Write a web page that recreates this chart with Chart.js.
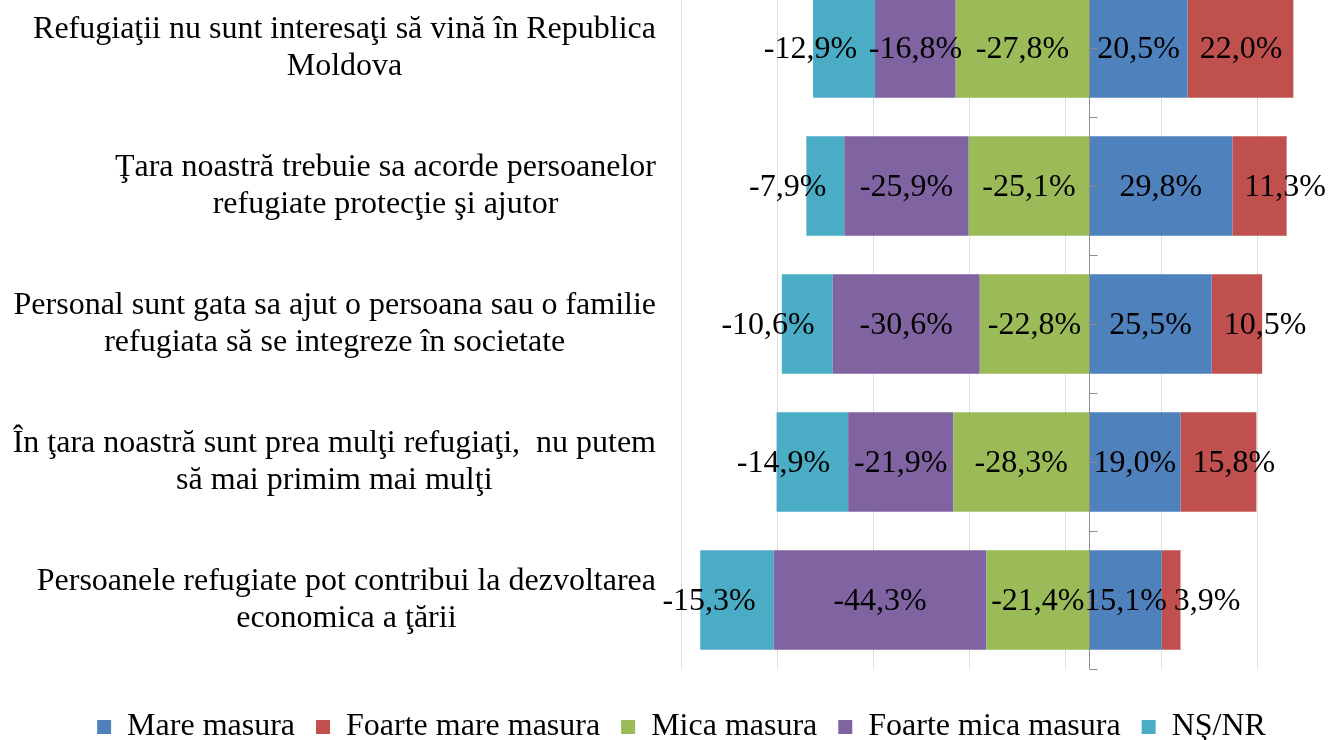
<!DOCTYPE html>
<html>
<head>
<meta charset="utf-8">
<script src="https://cdn.jsdelivr.net/npm/chart.js@4.4.0/dist/chart.umd.min.js"></script>
<style>
  html, body { margin: 0; padding: 0; background: #fff; overflow: hidden; }
  #wrap { position: absolute; left: 0; top: -21px; width: 1363px; height: 774px; }
</style>
</head>
<body>
<div id="wrap"><canvas id="chart"></canvas></div>
<script>
// intrebari (randuri de sus in jos), fiecare pe liniile ei
const intrebari = [
  ["Refugiaţii nu sunt interesaţi să vină în Republica", "Moldova"],
  ["Ţara noastră trebuie sa acorde persoanelor", "refugiate protecţie şi ajutor"],
  ["Personal sunt gata sa ajut o persoana sau o familie", "refugiata să se integreze în societate"],
  ["În ţara noastră sunt prea mulţi refugiaţi,  nu putem", "să mai primim mai mulţi"],
  ["Persoanele refugiate pot contribui la dezvoltarea", "economica a ţării"]
];

const mareMasura       = [20.5, 29.8, 25.5, 19.0, 15.1];
const foarteMareMasura = [22.0, 11.3, 10.5, 15.8, 3.9];
const micaMasura       = [-27.8, -25.1, -22.8, -28.3, -21.4];
const foarteMicaMasura = [-16.8, -25.9, -30.6, -21.9, -44.3];
const nsNr             = [-12.9, -7.9, -10.6, -14.9, -15.3];

const liniiGrila = [-85, -65, -45, -25, -5, 15, 35, 55];

const FONT = "'Liberation Serif', 'Times New Roman', serif";

function procent(v) {
  return v.toFixed(1).replace(".", ",") + "%";
}

// etichetele intrebarilor, in stanga, centrate pe fiecare bloc
const eticheteIntrebari = {
  id: "eticheteIntrebari",
  afterDraw(chart) {
    const ctx = chart.ctx;
    const y = chart.scales.y;
    const dreapta = chart.chartArea.left - 25;
    ctx.save();
    ctx.font = "32px " + FONT;
    ctx.fillStyle = "#000";
    ctx.textAlign = "center";
    ctx.textBaseline = "middle";
    intrebari.forEach((linii, i) => {
      const lat = Math.max(...linii.map(t => ctx.measureText(t).width));
      const cx = dreapta - lat / 2;
      const cy = y.getPixelForValue(i);
      const h = 37;
      linii.forEach((t, k) => {
        ctx.fillText(t, cx, cy + (k - (linii.length - 1) / 2) * h);
      });
    });
    ctx.restore();
  }
};

// axa verticala la zero cu liniute la fiecare jumatate de categorie
const axaZero = {
  id: "axaZero",
  afterDatasetsDraw(chart) {
    const ctx = chart.ctx;
    const x0 = Math.round(chart.scales.x.getPixelForValue(0)) + 0.5;
    const y = chart.scales.y;
    ctx.save();
    ctx.strokeStyle = "#8c8c8c";
    ctx.lineWidth = 1;
    ctx.beginPath();
    ctx.moveTo(x0, chart.chartArea.top);
    ctx.lineTo(x0, chart.chartArea.bottom);
    for (let v = -0.5; v <= intrebari.length - 0.5; v += 0.5) {
      const py = Math.round(y.getPixelForValue(v)) + 0.5;
      ctx.moveTo(x0, py);
      ctx.lineTo(x0 + 8, py);
    }
    ctx.stroke();
    ctx.restore();
  }
};

// valorile pe bare
const valori = {
  id: "valori",
  afterDatasetsDraw(chart) {
    const ctx = chart.ctx;
    ctx.save();
    ctx.font = "32px " + FONT;
    ctx.fillStyle = "#000";
    ctx.textBaseline = "middle";
    chart.data.datasets.forEach((ds, di) => {
      const meta = chart.getDatasetMeta(di);
      meta.data.forEach((bar, i) => {
        const txt = procent(ds.data[i]);
        if (di === 1) {
          ctx.textAlign = "left";
          ctx.fillText(txt, bar.base + 12, bar.y + 2);
        } else if (di === 4) {
          ctx.textAlign = "right";
          ctx.fillText(txt, bar.base - 18, bar.y + 2);
        } else {
          ctx.textAlign = "center";
          ctx.fillText(txt, (bar.x + bar.base) / 2, bar.y + 2);
        }
      });
    });
    ctx.restore();
  }
};

new Chart(document.getElementById("chart"), {
  type: "bar",
  data: {
    labels: intrebari.map(l => l.join(" ")),
    datasets: [
      { label: "Mare masura", data: mareMasura, backgroundColor: "#4f81bd" },
      { label: "Foarte mare masura", data: foarteMareMasura, backgroundColor: "#c0504d" },
      { label: "Mica masura", data: micaMasura, backgroundColor: "#9bbb59" },
      { label: "Foarte mica masura", data: foarteMicaMasura, backgroundColor: "#8064a2" },
      { label: "NŞ/NR", data: nsNr, backgroundColor: "#4bacc6" }
    ]
  },
  options: {
    indexAxis: "y",
    responsive: true,
    maintainAspectRatio: false,
    animation: false,
    datasets: { bar: { barPercentage: 0.72, categoryPercentage: 1 } },
    layout: { padding: 0 },
    scales: {
      x: {
        stacked: true,
        min: -85,
        max: 57,
        afterBuildTicks(scale) {
          scale.ticks = liniiGrila.map(v => ({ value: v }));
        },
        grid: { color: "#d9e0ea", drawTicks: false },
        border: { display: false },
        ticks: { display: false },
        afterFit(scale) { scale.height = 21; }
      },
      y: {
        stacked: true,
        grid: { display: false },
        border: { display: false },
        ticks: { display: false },
        // loc pentru textul intrebarilor
        afterFit(scale) { scale.width = 681; }
      }
    },
    plugins: {
      tooltip: { enabled: false },
      legend: {
        position: "bottom",
        labels: {
          font: { family: FONT, size: 32 },
          color: "#000",
          boxWidth: 14,
          boxHeight: 14,
          padding: 21
        }
      }
    }
  },
  plugins: [axaZero, valori, eticheteIntrebari]
});
</script>
</body>
</html>
